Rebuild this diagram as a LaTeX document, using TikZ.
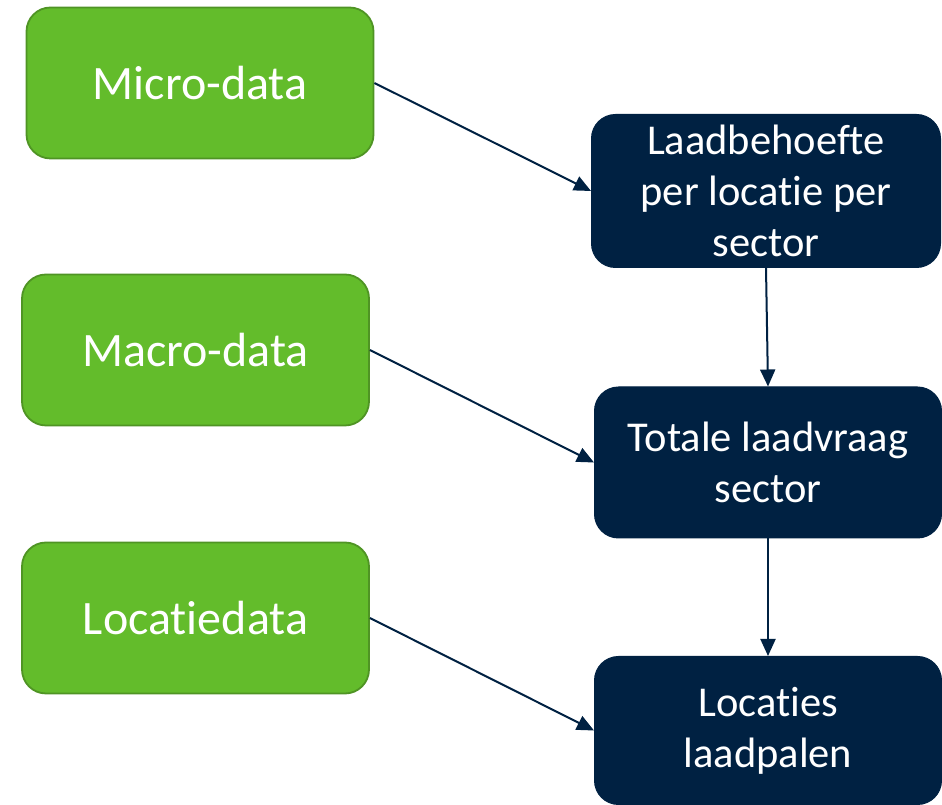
\documentclass[tikz,border=0pt]{standalone}
\usepackage{fontspec}
\setmainfont[Ligatures={NoCommon}]{Carlito}
\usetikzlibrary{arrows.meta}
\definecolor{groen}{HTML}{63BC2B}
\definecolor{groenrand}{HTML}{4F9424}
\definecolor{navy}{HTML}{002142}
\tikzset{
  bron/.style={draw=groenrand, line width=1.8pt, fill=groen, rounded corners=24pt,
    minimum width=347pt, minimum height=151pt, text=white,
    font=\fontsize{48}{51}\selectfont},
  stap/.style={draw=navy, line width=1pt, fill=navy, rounded corners=24pt,
    minimum width=347pt, minimum height=151pt, text=white, align=center,
    font=\fontsize{42.5}{51}\selectfont},
  pijl/.style={draw=navy, line width=2pt, -{Triangle[length=17pt,width=15pt]}}
}
\begin{document}
\begin{tikzpicture}[x=1pt, y=1pt]
	\useasboundingbox (0, 0) rectangle (942, 805);

	%bronnen
	\node[bron] (micro) at (200, 722) {Micro-data};
	\node[bron] (macro) at (195.5, 455) {Macro-data};
	\node[bron] (locatie) at (195.5, 187) {Locatiedata};

	%stappen
	\node[stap, minimum width=349pt, minimum height=153pt] (behoefte) at (766, 614) {Laadbehoefte\\per locatie per\\sector};
	\node[stap] (vraag) at (768, 342.5) {Totale laadvraag\\sector};
	\node[stap, minimum height=148pt] (palen) at (768, 74.5) {Locaties\\laadpalen};

	%pijlen
	\draw[pijl] (micro.east) -- (behoefte.west);
	\draw[pijl] (macro.east) -- (vraag.west);
	\draw[pijl] (locatie.east) -- (palen.west);
	\draw[pijl] (behoefte.south) -- (vraag.north);
	\draw[pijl] (vraag.south) -- (palen.north);
\end{tikzpicture}
\end{document}
